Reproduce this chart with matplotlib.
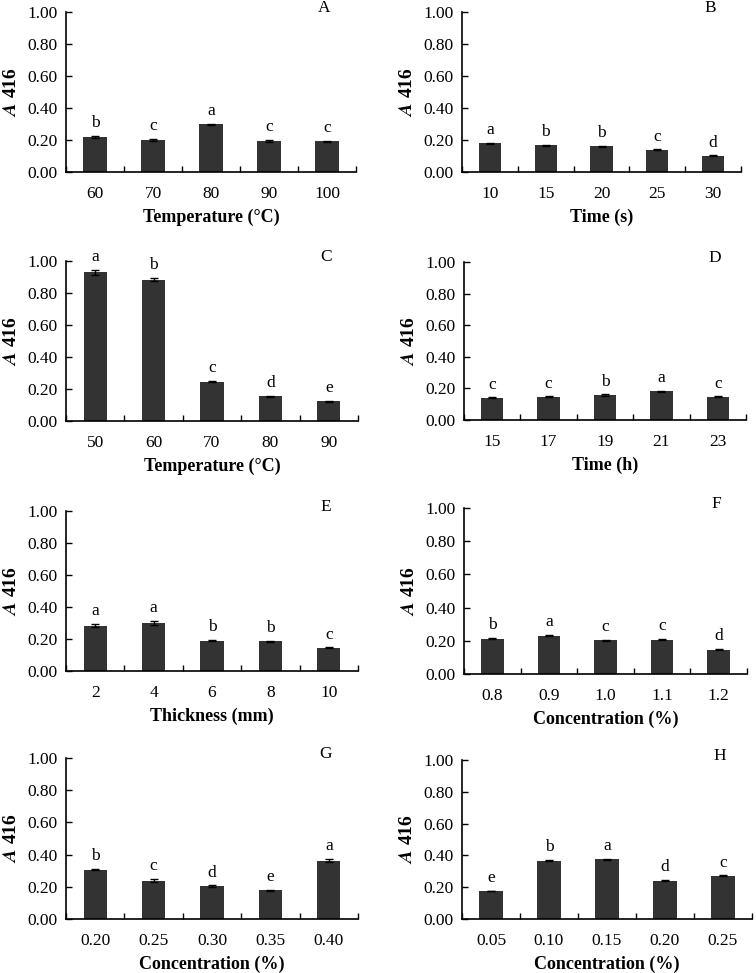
import numpy as np
import matplotlib.pyplot as plt

plt.rcParams['font.family'] = ['Liberation Serif', 'DejaVu Serif']
plt.rcParams['mathtext.fontset'] = 'stix'

# panel data: tick labels, means, errors, significance letters
cats_a = ['60', '70', '80', '90', '100']
vals_a = [0.218, 0.201, 0.297, 0.195, 0.191]
errs_a = [0.008, 0.006, 0.004, 0.008, 0.004]
sig_a = ['b', 'c', 'a', 'c', 'c']

cats_b = ['10', '15', '20', '25', '30']
vals_b = [0.180, 0.167, 0.161, 0.138, 0.101]
errs_b = [0.003, 0.003, 0.003, 0.003, 0.003]
sig_b = ['a', 'b', 'b', 'c', 'd']

cats_c = ['50', '60', '70', '80', '90']
vals_c = [0.929, 0.883, 0.246, 0.156, 0.123]
errs_c = [0.015, 0.010, 0.005, 0.003, 0.005]
sig_c = ['a', 'b', 'c', 'd', 'e']

cats_d = ['15', '17', '19', '21', '23']
vals_d = [0.141, 0.147, 0.158, 0.183, 0.147]
errs_d = [0.003, 0.003, 0.004, 0.003, 0.003]
sig_d = ['c', 'c', 'b', 'a', 'c']

cats_e = ['2', '4', '6', '8', '10']
vals_e = [0.284, 0.299, 0.190, 0.186, 0.144]
errs_e = [0.008, 0.012, 0.003, 0.003, 0.003]
sig_e = ['a', 'a', 'b', 'b', 'c']

cats_f = ['0.8', '0.9', '1.0', '1.1', '1.2']
vals_f = [0.213, 0.231, 0.203, 0.205, 0.147]
errs_f = [0.003, 0.003, 0.003, 0.003, 0.003]
sig_f = ['b', 'a', 'c', 'c', 'd']

cats_g = ['0.20', '0.25', '0.30', '0.35', '0.40']
vals_g = [0.307, 0.237, 0.205, 0.178, 0.363]
errs_g = [0.003, 0.010, 0.004, 0.003, 0.008]
sig_g = ['b', 'c', 'd', 'e', 'a']

cats_h = ['0.05', '0.10', '0.15', '0.20', '0.25']
vals_h = [0.176, 0.366, 0.377, 0.241, 0.272]
errs_h = [0.003, 0.004, 0.003, 0.003, 0.003]
sig_h = ['e', 'b', 'a', 'd', 'c']

panels = [
    ('A', cats_a, vals_a, errs_a, sig_a, 'Temperature (°C)'),
    ('B', cats_b, vals_b, errs_b, sig_b, 'Time (s)'),
    ('C', cats_c, vals_c, errs_c, sig_c, 'Temperature (°C)'),
    ('D', cats_d, vals_d, errs_d, sig_d, 'Time (h)'),
    ('E', cats_e, vals_e, errs_e, sig_e, 'Thickness (mm)'),
    ('F', cats_f, vals_f, errs_f, sig_f, 'Concentration (%)'),
    ('G', cats_g, vals_g, errs_g, sig_g, 'Concentration (%)'),
    ('H', cats_h, vals_h, errs_h, sig_h, 'Concentration (%)'),
]

W, H = 756, 973
fig = plt.figure(figsize=(W / 100, H / 100), dpi=100)

# axes boxes in pixels: left, right, top, bottom
boxes = [
    (66, 356, 12, 172), (462, 741, 12, 172),
    (66, 358, 261, 421), (464, 746, 262, 420),
    (66, 358, 511, 671), (464, 747, 508, 674),
    (66, 358, 758, 919), (462, 752, 760, 919),
]

for (lab, cats, vals, errs, sig, xlab), (l, r, t, b) in zip(panels, boxes):
    ax = fig.add_axes([l / W, 1 - b / H, (r - l) / W, (b - t) / H])
    x = np.arange(len(cats))
    ax.bar(x, vals, width=0.4, color='#333333', zorder=2)
    ax.errorbar(x, vals, yerr=errs, fmt='none', ecolor='black',
                elinewidth=1, capsize=3, capthick=1, zorder=3)
    for xi, v, e, s in zip(x, vals, errs, sig):
        ax.text(xi, v + e + 0.03, s, ha='center', va='bottom', fontsize=12.5)
    ax.set_xlim(-0.5, len(cats) - 0.5)
    ax.set_ylim(0, 1.0)
    ax.set_yticks(np.arange(0, 1.01, 0.2))
    ax.set_yticklabels(['%.2f' % v for v in np.arange(0, 1.01, 0.2)])
    ax.set_xticks(x)
    ax.set_xticklabels(cats)
    ax.set_xticks(np.arange(-0.5, len(cats), 1.0), minor=True)
    ax.tick_params(axis='x', which='major', length=0, pad=10, labelsize=12.5)
    ax.tick_params(axis='x', which='minor', direction='in', length=4, width=1)
    ax.tick_params(axis='y', direction='in', length=4, width=1, pad=6, labelsize=12.5)
    for side in ['top', 'right']:
        ax.spines[side].set_visible(False)
    for side in ['left', 'bottom']:
        ax.spines[side].set_linewidth(1.2)
    ax.set_xlabel(xlab, fontsize=13, fontweight='bold', labelpad=5)
    ax.set_ylabel(r'$\mathbfit{A}$ 416', fontsize=14, fontweight='bold', labelpad=5)
    ax.text(0.89, 1.0, lab, transform=ax.transAxes, ha='center', va='baseline',
            fontsize=12.5)

fig.savefig('out.png', dpi=100)
